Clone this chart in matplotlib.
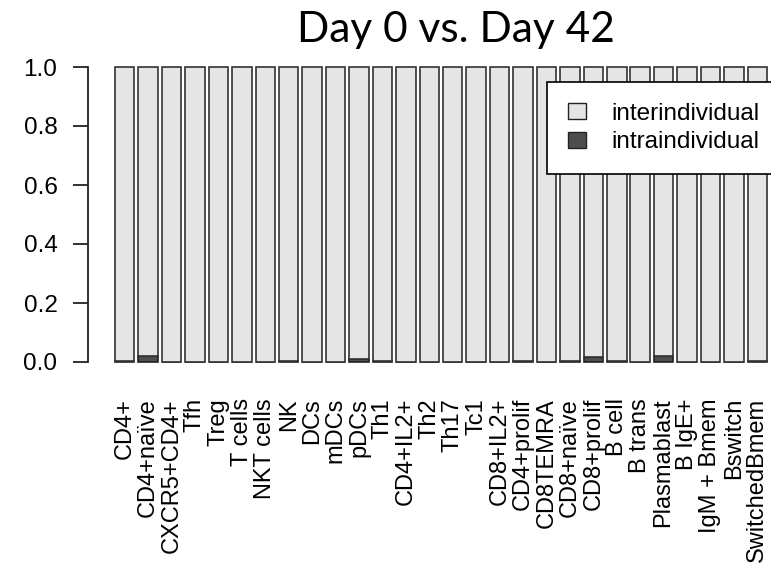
import numpy as np
import matplotlib
import matplotlib.pyplot as plt
from matplotlib.patches import Patch

matplotlib.use('Agg')

cells = ["CD4+", "CD4+naïve", "CXCR5+CD4+", "Tfh", "Treg", "T cells", "NKT cells", "NK",
         "DCs", "mDCs", "pDCs", "Th1", "CD4+IL2+", "Th2", "Th17", "Tc1", "CD8+IL2+",
         "CD4+prolif", "CD8TEMRA", "CD8+naïve", "CD8+prolif", "B cell", "B trans",
         "Plasmablast", "B IgE+", "IgM + Bmem", "Bswitch", "SwitchedBmem"]
intra = [0.005, 0.022, 0.0, 0.0, 0.0, 0.0, 0.0, 0.005,
         0.0, 0.0, 0.011, 0.005, 0.0, 0.0, 0.0, 0.0, 0.0,
         0.005, 0.0, 0.005, 0.016, 0.005, 0.0,
         0.022, 0.0, 0.0, 0.0, 0.005]
inter = [1 - v for v in intra]

W, H = 771, 565
fig = plt.figure(figsize=(W / 100, H / 100), dpi=100)
ax = fig.add_axes([88 / W, (H - 362) / H, (W - 88) / W, 295 / H])

x = 0.7 + 1.2 * np.arange(len(cells))
ax.bar(x, intra, width=1, color='#4d4d4d', edgecolor='#222222', linewidth=1.2, clip_on=False)
ax.bar(x, inter, width=1, bottom=intra, color='#e5e5e5', edgecolor='#333333',
       linewidth=1.2, clip_on=False)

ax.set_xlim(-1.18, 33.8)
ax.set_ylim(0, 1)
ax.set_xticks(x)
ax.set_xticklabels(cells, rotation=90, fontsize=17, family='Liberation Sans')
ax.tick_params(axis='x', length=0, pad=26)
ax.set_yticks([0, 0.2, 0.4, 0.6, 0.8, 1.0])
ax.set_yticklabels(['0.0', '0.2', '0.4', '0.6', '0.8', '1.0'], fontsize=17.5, family='Liberation Sans')
ax.tick_params(axis='y', length=11, width=1.3, pad=11, color='#222222')
for s in ['top', 'right', 'bottom']:
    ax.spines[s].set_visible(False)
ax.spines['left'].set_bounds(0, 1)
ax.spines['left'].set_linewidth(1.3)
ax.spines['left'].set_color('#222222')

handles = [Patch(facecolor='#e5e5e5', edgecolor='#222222', label='interindividual'),
           Patch(facecolor='#4d4d4d', edgecolor='#222222', label='intraindividual')]
leg = fig.legend(handles=handles, loc='upper left', bbox_to_anchor=(547 / W, 1 - 82 / H),
                 prop={'family': 'Liberation Sans', 'size': 17.5}, frameon=True, fancybox=False,
                 edgecolor='black', framealpha=1, borderpad=0.85, handlelength=0.75,
                 handleheight=0.6, handletextpad=1.05, labelspacing=0.28, borderaxespad=0)
leg.get_frame().set_linewidth(1.2)

fig.text(456 / W, 1 - 42 / H, "Day 0 vs. Day 42", ha='center', va='baseline',
         fontsize=30.5, family='Lato')

fig.savefig('out.png', dpi=100)
